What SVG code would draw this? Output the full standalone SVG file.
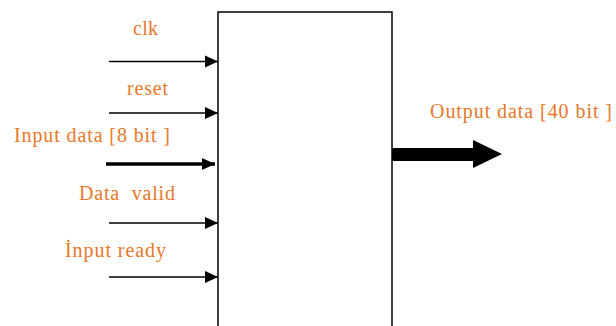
<svg xmlns="http://www.w3.org/2000/svg" width="616" height="326" viewBox="0 0 616 326">
<style>
text{font-family:"Liberation Serif","Times New Roman",serif;font-size:20px;fill:#E8782A}
.thin{stroke:#000;stroke-width:1.5;fill:none}
.thick{stroke:#000;stroke-width:3.5;fill:none}
</style>
<defs>
<marker id="ah" markerUnits="userSpaceOnUse" markerWidth="14" markerHeight="14" refX="13" refY="7" orient="auto"><path d="M0,1 L13,7 L0,13 Z" fill="#000"/></marker>
</defs>
<rect width="616" height="326" fill="#fff"/>
<g id="block"><path d="M218,330 V12 H392 V330" stroke="#000" stroke-width="1.5" fill="none"/></g>
<g id="connectors">
<line class="thin" x1="109" y1="61.5" x2="218" y2="61.5" marker-end="url(#ah)"/>
<line class="thin" x1="109" y1="113" x2="218" y2="113" marker-end="url(#ah)"/>
<line class="thick" x1="106" y1="164" x2="215" y2="164" marker-end="url(#ah)"/>
<line class="thin" x1="109" y1="223" x2="218" y2="223" marker-end="url(#ah)"/>
<line class="thin" x1="109" y1="277" x2="218" y2="277" marker-end="url(#ah)"/>
<path d="M392,148 H473 V140 L502,154 L473,168 V161 H392 Z" fill="#000"/>
</g>
<g id="labels">
<text x="133" y="35" textLength="25" lengthAdjust="spacing">clk</text>
<text x="127" y="95" textLength="41" lengthAdjust="spacing">reset</text>
<text x="14" y="142" textLength="156" lengthAdjust="spacing">Input data [8 bit ]</text>
<text x="79" y="200" xml:space="preserve" textLength="96" lengthAdjust="spacing">Data  valid</text>
<text x="65" y="257" textLength="101" lengthAdjust="spacing">İnput ready</text>
<text x="430" y="118" textLength="182" lengthAdjust="spacing">Output data [40 bit ]</text>
</g>
</svg>
